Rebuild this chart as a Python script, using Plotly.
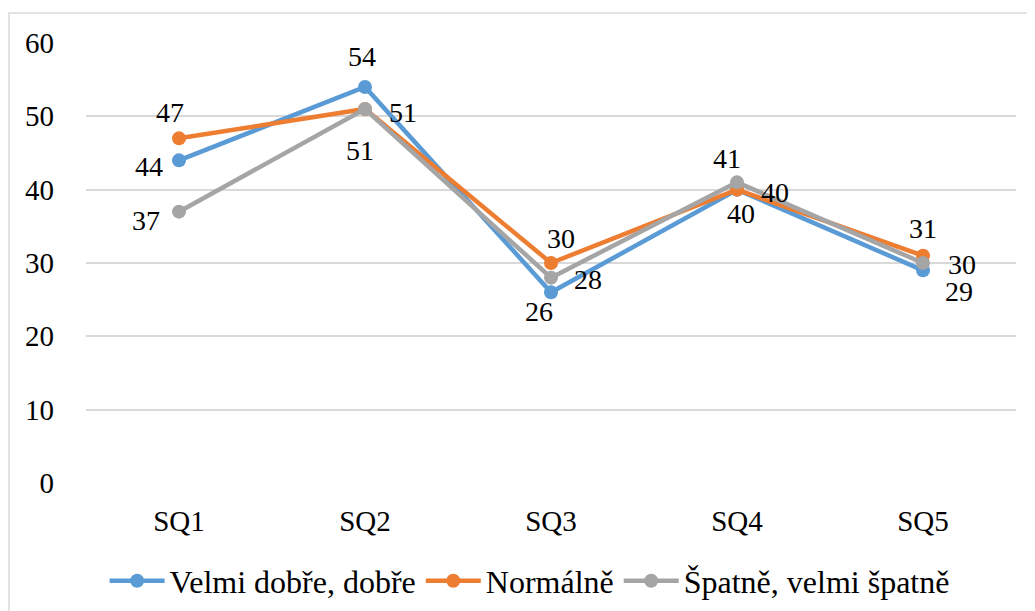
import plotly.graph_objects as go

categories = ["SQ1", "SQ2", "SQ3", "SQ4", "SQ5"]
series_names = ["Velmi dobře, dobře", "Normálně", "Špatně, velmi špatně"]
velmi_dobre = [44, 54, 26, 40, 29]
normalne = [47, 51, 30, 40, 31]
spatne = [37, 51, 28, 41, 30]
y_ticks = [0, 10, 20, 30, 40, 50, 60]

colors = ["#5B9BD5", "#ED7D31", "#A5A5A5"]
# data label pixel offsets (dx, dy; dy positive = downward) per series / point
label_offsets = [
    [(-30, 6), (-3, -31), (-12, 19), (4, 24), (36, 21)],
    [(-9, -26), (38, 3), (10, -25), (38, 3), (0, -27)],
    [(-33, 9), (-5, 41), (37, 2), (-10, -24), (39, 1)],
]

FONT = "Liberation Serif"
fig = go.Figure()
annotations = []
for name, vals, col, offs in zip(series_names, [velmi_dobre, normalne, spatne], colors, label_offsets):
    fig.add_trace(go.Scatter(
        x=categories, y=vals, name=name, mode="lines+markers",
        line=dict(color=col, width=4.5),
        marker=dict(color=col, size=14),
        cliponaxis=False,
    ))
    for c, v, (dx, dy) in zip(categories, vals, offs):
        annotations.append(dict(
            x=c, y=v, xref="x", yref="y", text=str(v), showarrow=False,
            xanchor="center", yanchor="middle", xshift=dx, yshift=-dy,
            font=dict(family=FONT, size=28, color="black"),
        ))

fig.update_layout(
    width=1027, height=603,
    margin=dict(l=78, r=19, t=35, b=128),
    paper_bgcolor="white", plot_bgcolor="white",
    font=dict(family=FONT, size=28, color="black"),
    showlegend=True,
    legend=dict(orientation="h", x=0.477, xanchor="center",
                yref="container", y=0.0498, yanchor="middle",
                font=dict(family=FONT, size=32, color="black"), itemwidth=55,
                traceorder="normal"),
    xaxis=dict(type="category", range=[-0.5, 4.5], showgrid=False, showline=False,
               zeroline=False, ticks="", ticklabelstandoff=18,
               tickfont=dict(family=FONT, size=29, color="black")),
    yaxis=dict(range=[0, 60], tickvals=y_ticks, showgrid=True, gridcolor="#D9D9D9",
               gridwidth=1.5, zeroline=False, showline=False, ticks="",
               ticklabelstandoff=31,
               tickfont=dict(family=FONT, size=29, color="black")),
    annotations=annotations,
    shapes=[dict(type="rect", xref="paper", yref="paper",
                 x0=(9 - 86) / 930, x1=1.2, y0=-0.5, y1=1 + (43 - 13) / 440,
                 line=dict(color="#D9D9D9", width=1.5), fillcolor="rgba(0,0,0,0)",
                 layer="below")],
)

fig.write_html("out.html")
